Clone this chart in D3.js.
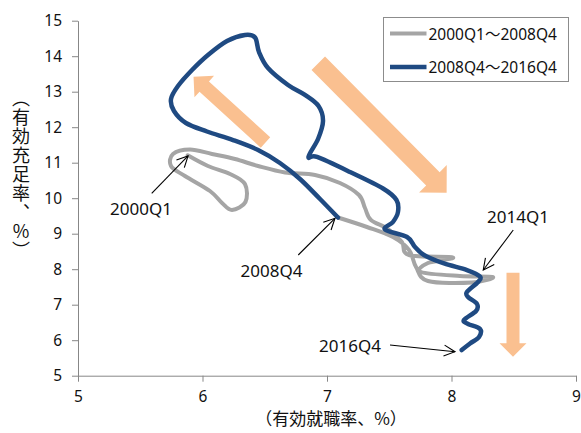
<!DOCTYPE html>
<html>
<head>
<meta charset="utf-8">
<script src="https://cdn.jsdelivr.net/npm/d3@7"></script>
<style>
  html, body { margin: 0; padding: 0; background: #fff; }
  svg { display: block; font-family: "Noto Sans", "Noto Sans CJK JP", sans-serif; }
</style>
</head>
<body>
<svg id="chart" width="581" height="433"></svg>
<script>
// 2000Q1～2008Q4 : 有効就職率 (x) と 有効充足率 (y)
const grayX = [5.881, 6.044, 6.221, 6.341, 6.345, 6.237, 6.157, 6.060, 5.859, 5.747, 5.763, 5.900,
               6.076, 6.261, 6.446, 6.663, 6.904, 7.104, 7.257, 7.305, 7.353, 7.490, 7.602, 7.659,
               8.012, 7.811, 7.755, 8.068, 8.333, 8.165, 7.811, 7.715, 7.659, 7.530, 7.321, 7.088];
const grayY = [11.208, 10.907, 10.682, 10.400, 9.893, 9.668, 9.865, 10.203, 10.625, 10.907, 11.245, 11.372,
               11.245, 11.104, 10.907, 10.724, 10.654, 10.428, 10.090, 9.724, 9.386, 9.132, 8.766, 8.400,
               8.330, 8.175, 7.921, 7.808, 7.780, 7.625, 7.668, 8.062, 8.541, 8.907, 9.189, 9.456];

// 2008Q4～2016Q4
const blueX = [7.088, 6.944, 6.783, 6.622, 6.446, 6.245, 6.036, 5.867, 5.771, 5.747, 5.803, 5.916,
               6.044, 6.197, 6.341, 6.422, 6.454, 6.526, 6.687, 6.823, 6.932, 6.968, 6.928, 6.851,
               6.920, 7.185, 7.450, 7.558, 7.570, 7.530, 7.466, 7.643, 7.707, 7.779, 7.940, 8.124,
               8.229, 8.213, 8.124, 8.133, 8.205, 8.197, 8.100, 8.133, 8.229, 8.221, 8.149, 8.082];
const blueY = [9.456, 9.977, 10.541, 10.992, 11.358, 11.639, 11.879, 12.118, 12.456, 12.794, 13.160, 13.611,
               14.034, 14.428, 14.597, 14.527, 14.118, 13.668, 13.189, 12.908, 12.597, 12.175, 11.668, 11.161,
               11.161, 10.738, 10.273, 9.949, 9.611, 9.330, 9.118, 8.907, 8.625, 8.400, 8.161, 7.977,
               7.794, 7.639, 7.358, 7.217, 7.020, 6.823, 6.570, 6.458, 6.315, 6.090, 5.907, 5.724];

const seriesNames = ["2000Q1～2008Q4", "2008Q4～2016Q4"];
const xTicks = [5, 6, 7, 8, 9];
const yTicks = [5, 6, 7, 8, 9, 10, 11, 12, 13, 14, 15];
const xTitle = "（有効就職率、%）";
const yTitle = "（有効充足率、%）";

// period labels: text, label position, arrow start, arrow end
const noteText = ["2000Q1", "2008Q4", "2014Q1", "2016Q4"];
const noteX    = [5.506, 6.554, 8.534, 7.185];
const noteY    = [9.696, 7.963, 9.485, 5.837];
const noteX0   = [5.592, 6.769, 8.496, 7.506];
const noteY0   = [10.138, 8.400, 9.104, 5.865];
const noteX1   = [5.884, 7.064, 8.255, 8.028];
const noteY1   = [11.189, 9.434, 7.977, 5.676];

// direction arrows: tail and tip
const dirX0 = [6.506, 6.930, 8.494];
const dirY0 = [11.57, 13.80, 7.90];
const dirX1 = [5.928, 7.961, 8.494];
const dirY1 = [13.42, 10.155, 5.535];
const dirShaft = [14, 19, 13];
const dirHead  = [29, 39, 27];

const colors = { gray: "#a5a5a5", blue: "#1f4a82", orange: "#fac090", axis: "#878787" };

const svg = d3.select("#chart");
const x = d3.scaleLinear().domain([5, 9]).range([78, 576]);
const y = d3.scaleLinear().domain([5, 15]).range([375.7, 20.7]);

// orange direction arrows (drawn first, below the lines)
function fatArrow(x0, y0, x1, y1, shaft, head) {
  const dx = x1 - x0, dy = y1 - y0, L = Math.hypot(dx, dy);
  const ux = dx / L, uy = dy / L, px = -uy, py = ux;
  const hl = head / 2;           // 90° tip
  const bx = x1 - ux * hl, by = y1 - uy * hl;
  const s = shaft / 2, h = head / 2;
  const pts = [
    [x0 + px * s, y0 + py * s], [bx + px * s, by + py * s], [bx + px * h, by + py * h],
    [x1, y1],
    [bx - px * h, by - py * h], [bx - px * s, by - py * s], [x0 - px * s, y0 - py * s]
  ];
  return "M" + pts.map(p => p.join(",")).join("L") + "Z";
}
svg.append("g").selectAll("path").data(dirX0).join("path")
  .attr("d", (d, i) => fatArrow(x(dirX0[i]), y(dirY0[i]), x(dirX1[i]), y(dirY1[i]), dirShaft[i], dirHead[i]))
  .attr("fill", colors.orange);

// axes
const xAxis = d3.axisBottom(x).tickValues(xTicks).tickFormat(d3.format("d"))
  .tickSize(6).tickPadding(9).tickSizeOuter(0);
const yAxis = d3.axisLeft(y).tickValues(yTicks).tickFormat(d3.format("d"))
  .tickSize(6).tickPadding(10).tickSizeOuter(0);
const gx = svg.append("g").attr("transform", `translate(0,${y(5)})`).call(xAxis);
const gy = svg.append("g").attr("transform", `translate(${x(5)},0)`).call(yAxis);
[gx, gy].forEach(g => {
  g.select(".domain").attr("stroke", colors.axis);
  g.selectAll(".tick line").attr("stroke", colors.axis);
  g.selectAll(".tick text").attr("fill", "#111").style("font-size", "15.5px")
    .style("font-family", "\"Noto Sans\", sans-serif");
});

// lines (uniform Catmull-Rom smoothing)
const line = d3.line().x(d => x(d[0])).y(d => y(d[1])).curve(d3.curveCatmullRom.alpha(0));
const grayPts = grayX.map((v, i) => [v, grayY[i]]);
const bluePts = blueX.map((v, i) => [v, blueY[i]]);
svg.append("path").attr("d", line(grayPts)).attr("fill", "none")
  .attr("stroke", colors.gray).attr("stroke-width", 4).attr("stroke-linejoin", "round").attr("stroke-linecap", "round");
svg.append("path").attr("d", line(bluePts)).attr("fill", "none")
  .attr("stroke", colors.blue).attr("stroke-width", 4.5).attr("stroke-linejoin", "round").attr("stroke-linecap", "round");

// annotation arrows
const defs = svg.append("defs");
defs.append("marker").attr("id", "openhead").attr("viewBox", "-12 -7 14 14")
  .attr("markerWidth", 14).attr("markerHeight", 14).attr("markerUnits", "userSpaceOnUse")
  .attr("refX", 0).attr("refY", 0).attr("orient", "auto")
  .append("path").attr("d", "M-11,-5.5L0,0L-11,5.5").attr("fill", "none").attr("stroke", "#000").attr("stroke-width", 1.1);
svg.append("g").selectAll("line").data(noteText).join("line")
  .attr("x1", (d, i) => x(noteX0[i])).attr("y1", (d, i) => y(noteY0[i]))
  .attr("x2", (d, i) => x(noteX1[i])).attr("y2", (d, i) => y(noteY1[i]))
  .attr("stroke", "#000").attr("stroke-width", 1.1).attr("marker-end", "url(#openhead)");
svg.append("g").selectAll("text").data(noteText).join("text")
  .attr("x", (d, i) => x(noteX[i])).attr("y", (d, i) => y(noteY[i]))
  .attr("text-anchor", "middle").attr("dominant-baseline", "central")
  .style("font-size", "17px").attr("fill", "#111").text(d => d);

// axis titles
svg.append("text").attr("x", (x(5) + x(9)) / 2 + 4).attr("y", 425)
  .attr("text-anchor", "middle").style("font-size", "17px")
  .style("font-family", "\"Noto Sans CJK JP\", sans-serif").attr("fill", "#111").text(xTitle);
svg.append("text").attr("x", 21).attr("y", 175)
  .attr("text-anchor", "middle")
  .style("writing-mode", "vertical-rl").style("text-orientation", "upright")
  .style("font-size", "18px").style("letter-spacing", "1px")
  .style("font-family", "\"Noto Sans CJK JP\", sans-serif").attr("fill", "#111").text(yTitle);

// legend
const lg = svg.append("g").attr("transform", "translate(383.5,17.5)");
lg.append("rect").attr("width", 185).attr("height", 64).attr("fill", "#fff").attr("stroke", "#8c8c8c").attr("stroke-width", 1);
const lgColors = [colors.gray, colors.blue];
seriesNames.forEach((name, i) => {
  const cy = 16 + i * 33.4;
  lg.append("line").attr("x1", 6.5).attr("x2", 43).attr("y1", cy).attr("y2", cy)
    .attr("stroke", lgColors[i]).attr("stroke-width", i ? 4.5 : 4);
  lg.append("text").attr("x", 45).attr("y", cy).attr("dominant-baseline", "central")
    .style("font-size", "15.5px").attr("fill", "#111").text(name);
});
</script>
</body>
</html>
